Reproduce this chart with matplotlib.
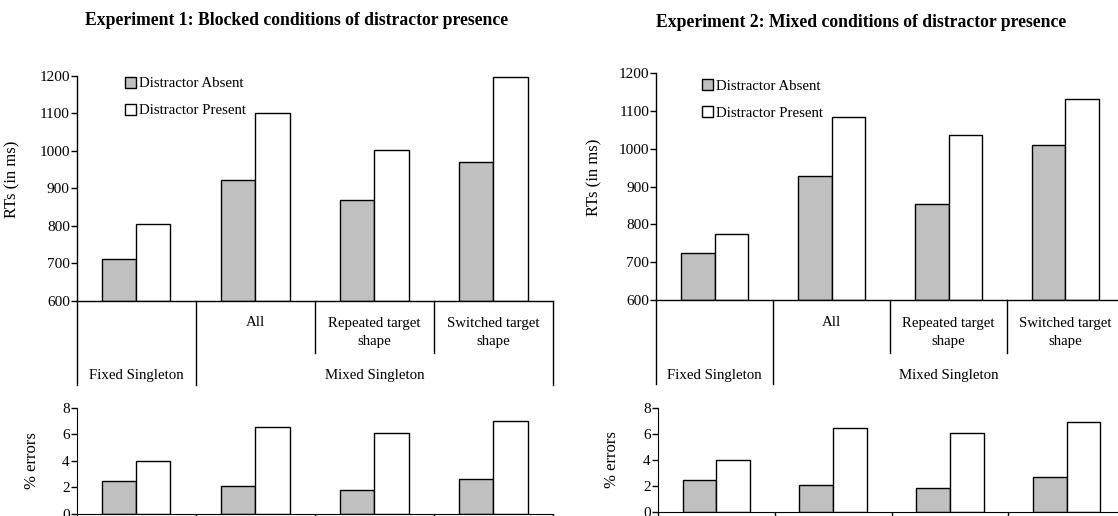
import matplotlib
matplotlib.use("Agg")
import matplotlib.pyplot as plt
from matplotlib.patches import Patch
import numpy as np

plt.rcParams['font.family'] = ['Liberation Serif', 'DejaVu Serif']

# ---- data ----
conditions = ["Fixed Singleton", "All", "Repeated target\nshape", "Switched target\nshape"]
groups = ["Fixed Singleton", "Mixed Singleton"]
series = ["Distractor Absent", "Distractor Present"]

exp1_rt_absent = [712, 923, 868, 970]
exp1_rt_present = [805, 1101, 1002, 1196]
exp1_err_absent = [2.5, 2.1, 1.8, 2.65]
exp1_err_present = [4.0, 6.55, 6.1, 7.0]

exp2_rt_absent = [724, 927, 854, 1010]
exp2_rt_present = [775, 1084, 1037, 1133]
exp2_err_absent = [2.48, 2.1, 1.83, 2.68]
exp2_err_present = [4.0, 6.48, 6.1, 6.97]

titles = ["Experiment 1: Blocked conditions of distractor presence",
          "Experiment 2: Mixed conditions of distractor presence"]
rt_ticks = [600, 700, 800, 900, 1000, 1100, 1200]
err_ticks = [0, 2, 4, 6, 8]

GRAY = "#C0C0C0"
W, H = 1118, 516
fig = plt.figure(figsize=(W / 100, H / 100), dpi=100)


def frac(x0, y_top, x1, y_bot):
    return [x0 / W, (H - y_bot) / H, (x1 - x0) / W, (y_bot - y_top) / H]


panels = [
    dict(rt=frac(76.7, 75.7, 553, 300.7), err=frac(76.7, 407.7, 553, 514),
         rta=exp1_rt_absent, rtp=exp1_rt_present, ea=exp1_err_absent, ep=exp1_err_present,
         title_xy=(296.5, 20.7), leg=(0.101, 0.995), rtlab=(-0.119, 0.541), errlab=(-0.077, 0.5),
         sep_long=-84 / 225, sep_short=-52 / 225),
    dict(rt=frac(656.3, 73.3, 1123.9, 300), err=frac(657.7, 408.3, 1125.3, 511.7),
         rta=exp2_rt_absent, rtp=exp2_rt_present, ea=exp2_err_absent, ep=exp2_err_present,
         title_xy=(861, 22.7), leg=(0.0977, 0.975), rtlab=(-0.115, 0.543), errlab=(-0.0806, 0.5),
         sep_long=-84 / 226.7, sep_short=-53 / 226.7),
]

bw = 0.2875
x = np.arange(len(conditions)) + 0.5
FS = 10.7

for i, p in enumerate(panels):
    ax = fig.add_axes(p["rt"])
    ax.bar(x - bw / 2, np.array(p["rta"]) - 600, bw, bottom=600, color=GRAY, edgecolor="black", linewidth=1.0)
    ax.bar(x + bw / 2, np.array(p["rtp"]) - 600, bw, bottom=600, color="white", edgecolor="black", linewidth=1.0)
    ax.set_xlim(0, 4)
    ax.set_ylim(600, 1200)
    ax.set_yticks(rt_ticks)
    ax.set_xticks([])
    for s in ["top", "right"]:
        ax.spines[s].set_visible(False)
    ax.spines["left"].set_linewidth(1.0)
    ax.spines["bottom"].set_linewidth(1.0)
    ax.tick_params(axis="y", direction="out", length=4, width=1.0, labelsize=11, pad=1)
    ax.set_ylabel("RTs (in ms)", fontsize=12)
    ax.yaxis.set_label_coords(*p["rtlab"])
    # separator lines below the axis
    tr = ax.get_xaxis_transform()
    for xs in [0, 1, 4]:
        ax.plot([xs, xs], [0, p["sep_long"]], color="black", lw=1.0, transform=tr, clip_on=False)
    for xs in [2, 3]:
        ax.plot([xs, xs], [0, p["sep_short"]], color="black", lw=1.0, transform=tr, clip_on=False)
    ax.text(1.5, -22 / 225, conditions[1], transform=tr, ha="center", va="center", fontsize=FS)
    for k in [2, 3]:
        ax.text(x[k], -32 / 225, conditions[k], transform=tr, ha="center", va="center",
                fontsize=FS, linespacing=1.5)
    ax.text(0.5, -75 / 225, groups[0], transform=tr, ha="center", va="center", fontsize=FS)
    ax.text(2.5, -75 / 225, groups[1], transform=tr, ha="center", va="center", fontsize=FS)
    handles = [Patch(facecolor=GRAY, edgecolor="black", linewidth=1.0),
               Patch(facecolor="white", edgecolor="black", linewidth=1.0)]
    ax.legend(handles, series, loc="upper left", bbox_to_anchor=p["leg"], frameon=False,
              fontsize=FS, handlelength=0.75, handleheight=0.75, handletextpad=0.2,
              labelspacing=0.9, borderpad=0, borderaxespad=0)
    fig.text(p["title_xy"][0] / W, 1 - p["title_xy"][1] / H, titles[i], ha="center", va="center",
             fontsize=12.7, fontweight="bold")

    ax2 = fig.add_axes(p["err"])
    ax2.bar(x - bw / 2, p["ea"], bw, color=GRAY, edgecolor="black", linewidth=1.0)
    ax2.bar(x + bw / 2, p["ep"], bw, color="white", edgecolor="black", linewidth=1.0)
    ax2.set_xlim(0, 4)
    ax2.set_ylim(0, 8)
    ax2.set_yticks(err_ticks)
    ax2.set_xticks([0, 1, 2, 3, 4])
    ax2.set_xticklabels([])
    for s in ["top", "right"]:
        ax2.spines[s].set_visible(False)
    ax2.tick_params(axis="y", direction="out", length=4, width=1.0, labelsize=11, pad=1)
    ax2.tick_params(axis="x", direction="out", length=8, width=1.0)
    ax2.set_ylabel("% errors", fontsize=12)
    ax2.yaxis.set_label_coords(*p["errlab"])

fig.savefig("out.png", dpi=100)
